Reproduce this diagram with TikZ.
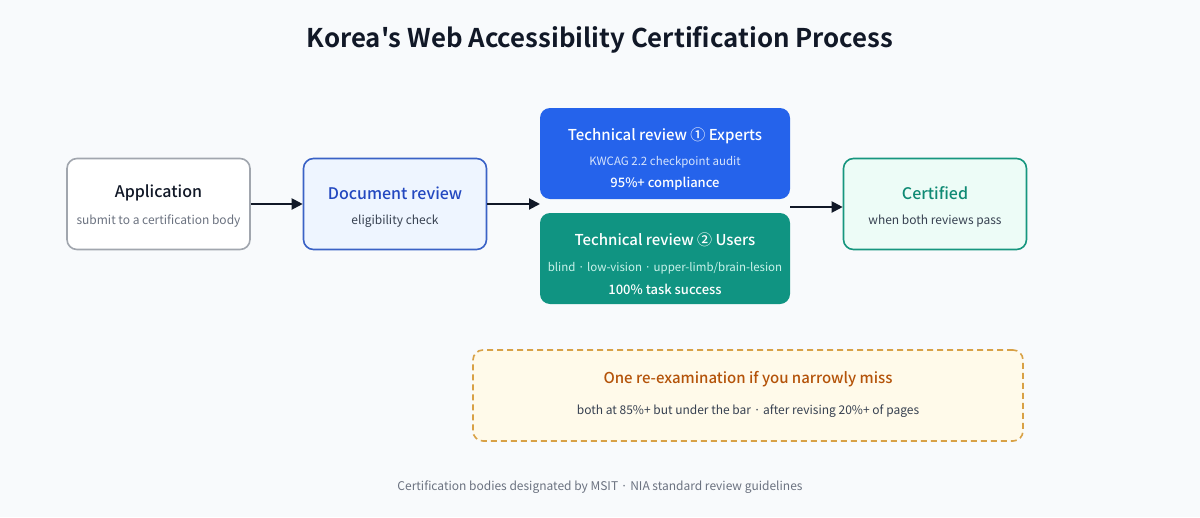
\documentclass[tikz,border=0pt]{standalone}
\usepackage{fontspec}
\setmainfont{Noto Sans CJK KR}[BoldFont={Noto Sans CJK KR Medium}]
\newfontfamily\headfont{Noto Sans CJK KR Bold}[Ligatures=TeXOff]
\usetikzlibrary{arrows.meta}

\definecolor{pagebg}{HTML}{F8FAFC}
\definecolor{ink}{HTML}{111827}
\definecolor{greytxt}{HTML}{6B7280}
\definecolor{darktxt}{HTML}{374151}
\definecolor{appedge}{HTML}{A1A6AE}
\definecolor{docfill}{HTML}{EEF5FF}
\definecolor{docedge}{HTML}{3A62C6}
\definecolor{doctxt}{HTML}{2348C0}
\definecolor{expfill}{HTML}{2563EB}
\definecolor{expsub}{HTML}{D6E4FD}
\definecolor{usrfill}{HTML}{109482}
\definecolor{usrsub}{HTML}{C9F2EA}
\definecolor{certfill}{HTML}{EDFCF7}
\definecolor{certedge}{HTML}{17967F}
\definecolor{certtxt}{HTML}{0F8A74}
\definecolor{retryfill}{HTML}{FFFAEA}
\definecolor{retryedge}{HTML}{D8A146}
\definecolor{retrytxt}{HTML}{B45309}

\tikzset{
  stagebox/.style={rounded corners=10pt, line width=1.6pt,
    minimum width=183pt, minimum height=91pt, inner sep=0pt},
  reviewbox/.style={rounded corners=10pt, inner sep=0pt,
    minimum width=250pt, minimum height=91pt},
  headtxt/.style={font=\fontsize{16}{19}\selectfont\bfseries},
  subtxt/.style={font=\fontsize{12}{14}\selectfont},
  flow/.style={draw=ink, line width=2pt, -{Triangle[length=11pt,width=11pt]}}
}

\begin{document}
\begin{tikzpicture}[x=1pt,y=-1pt]
  \fill[pagebg] (0,0) rectangle (1200,517);
  \useasboundingbox (0,0) rectangle (1200,517);

  % title
  \node[text=ink, font=\fontsize{25.8}{30}\headfont] (title) at (600,40)
    {Korea's Web Accessibility Certification Process};

  % stages
  \node[stagebox, draw=appedge, fill=white] (app) at (158.5,204) {};
  \node[headtxt, text=ink] (apphead) at ([yshift=11pt]app.center) {Application};
  \node[subtxt, text=greytxt] (appsub) at ([yshift=-17.5pt]app.center) {submit to a certification body};

  \node[stagebox, draw=docedge, fill=docfill] (doc) at (395,204) {};
  \node[headtxt, text=doctxt] (dochead) at ([yshift=11pt]doc.center) {Document review};
  \node[subtxt, text=darktxt] (docsub) at ([yshift=-17.5pt]doc.center) {eligibility check};

  \node[reviewbox, fill=expfill] (exp) at (665,153.5) {};
  \node[font=\fontsize{15}{18}\selectfont\bfseries, text=white] (exphead) at ([yshift=18pt]exp.center) {Technical review ① Experts};
  \node[font=\fontsize{11.5}{14}\selectfont, text=expsub] (expsub) at ([yshift=-9pt]exp.center) {KWCAG 2.2 checkpoint audit};
  \node[font=\fontsize{13}{16}\selectfont\bfseries, text=white] (expbar) at ([yshift=-30.5pt]exp.center) {95\%+ compliance};

  \node[reviewbox, fill=usrfill] (usr) at (665,258.5) {};
  \node[font=\fontsize{15}{18}\selectfont\bfseries, text=white] (usrhead) at ([yshift=18.5pt]usr.center) {Technical review ② Users};
  \node[font=\fontsize{11.5}{14}\selectfont, text=usrsub] (usrsub) at ([yshift=-10pt]usr.center) {blind · low-vision · upper-limb/brain-lesion};
  \node[font=\fontsize{13}{16}\selectfont\bfseries, text=white] (usrbar) at ([yshift=-30.5pt]usr.center) {100\% task success};

  \node[stagebox, draw=certedge, fill=certfill] (cert) at (935,204) {};
  \node[headtxt, text=certtxt] (certhead) at ([yshift=11pt]cert.center) {Certified};
  \node[subtxt, text=darktxt] (certsub) at ([yshift=-17.5pt]cert.center) {when both reviews pass};

  % re-examination note
  \node[rounded corners=10pt, draw=retryedge, fill=retryfill, line width=1.6pt,
    dash pattern=on 6pt off 4pt, minimum width=550pt, minimum height=91pt] (retry) at (748,395.5) {};
  \node[font=\fontsize{15}{18}\selectfont\bfseries, text=retrytxt] (retryhead) at ([yshift=16pt]retry.center) {One re-examination if you narrowly miss};
  \node[subtxt, text=darktxt] (retrysub) at ([yshift=-16pt]retry.center) {both at 85\%+ but under the bar · after revising 20\%+ of pages};

  % connectors
  \coordinate (split) at (540,204);
  \coordinate (join) at (790,207);
  \draw[flow] (app.east) -- (doc.west);
  \draw[flow] (doc.east) -- (split);
  \draw[flow] (join) -- (cert.west |- join);

  % footer
  \node[subtxt, text=greytxt] (foot) at (600,487)
    {Certification bodies designated by MSIT · NIA standard review guidelines};
\end{tikzpicture}
\end{document}
